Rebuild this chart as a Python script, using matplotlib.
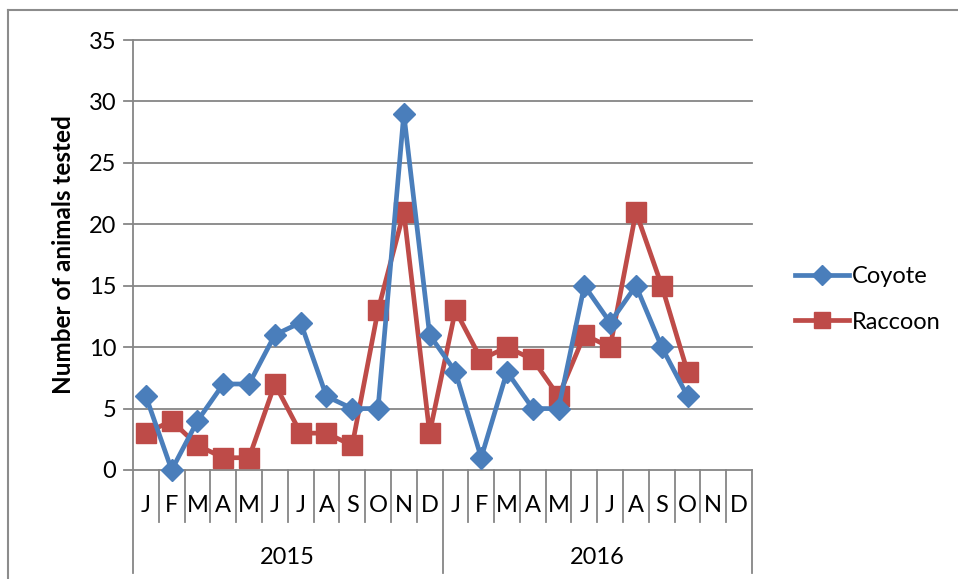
import matplotlib.pyplot as plt
import numpy as np
from matplotlib.lines import Line2D

months = ['J', 'F', 'M', 'A', 'M', 'J', 'J', 'A', 'S', 'O', 'N', 'D']
years = ['2015', '2016']

# monthly counts, Jan 2015 .. Oct 2016
coyote = [6, 0, 4, 7, 7, 11, 12, 6, 5, 5, 29, 11,
          8, 1, 8, 5, 5, 15, 12, 15, 10, 6]
raccoon = [3, 4, 2, 1, 1, 7, 3, 3, 2, 13, 21, 3,
           13, 9, 10, 9, 6, 11, 10, 21, 15, 8]

blue = '#4A7EBB'
red = '#BE4B48'
grid_col = '#868686'

plt.rcParams['font.family'] = ['Lato', 'DejaVu Sans']

W, H = 958, 579
fig = plt.figure(figsize=(W / 100, H / 100), dpi=100)

# outer chart border (only top and left are in view)
fig.add_artist(Line2D([8 / W, 8 / W], [0, 1 - 10 / H], color='#8c8c8c', lw=1.5,
                      transform=fig.transFigure))
fig.add_artist(Line2D([8 / W, 1], [1 - 10 / H, 1 - 10 / H], color='#8c8c8c', lw=1.5,
                      transform=fig.transFigure))

left, right, top, bottom = 133, 752, 40, 470
ax = fig.add_axes([left / W, 1 - bottom / H, (right - left) / W, (bottom - top) / H])

n = len(months) * len(years)
ax.set_xlim(0, n)
ax.set_ylim(0, 35)
for s in ax.spines.values():
    s.set_visible(False)

ax.set_yticks(np.arange(0, 36, 5))
ax.tick_params(axis='y', length=0, labelsize=17, pad=12)
ax.set_xticks([])

# horizontal gridlines, stretched a bit to the left like tick marks
for v in range(0, 36, 5):
    ax.plot([-0.33, n], [v, v], color=grid_col, lw=1.3, clip_on=False, zorder=1)

xt = ax.get_xaxis_transform()
h_px = bottom - top
m_bot = -52 / h_px
y_bot = -103 / h_px

# vertical axis line down through the category labels
ax.plot([0, 0], [y_bot, 1], color=grid_col, lw=1.3, transform=xt, clip_on=False)
for i in range(1, n + 1):
    low = y_bot if i % 12 == 0 else m_bot
    ax.plot([i, i], [low, 0], color=grid_col, lw=1.3, transform=xt, clip_on=False)

for i in range(n):
    ax.text(i + 0.5, -36 / h_px, months[i % 12], transform=xt, ha='center',
            va='center', fontsize=17)
for j, yr in enumerate(years):
    ax.text(j * 12 + 6, -87 / h_px, yr, transform=xt, ha='center', va='center',
            fontsize=17)

x = np.arange(len(coyote)) + 0.5
ax.plot(x, coyote, color=blue, lw=3.4, marker='D', ms=11.5, mfc=blue, mec=blue,
        label='Coyote', zorder=3, clip_on=False)
ax.plot(x, raccoon, color=red, lw=3.4, marker='s', ms=14, mfc=red, mec=red,
        label='Raccoon', zorder=2, clip_on=False)

ax.set_ylabel('Number of animals tested', fontsize=17.5, fontweight='bold', labelpad=10)

ax.legend(loc='center left', bbox_to_anchor=(1.035, 0.397), frameon=False,
          fontsize=17, handlelength=2.3, handletextpad=0.1, labelspacing=1.05,
          markerscale=0.85)

fig.savefig('out.png', dpi=100)
